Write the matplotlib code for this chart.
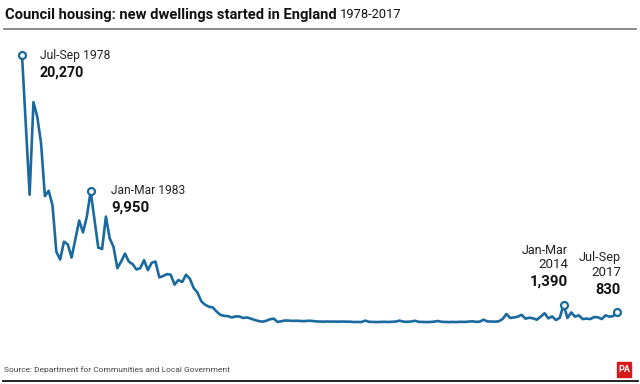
import pandas as pd
import matplotlib
matplotlib.use("Agg")
import matplotlib.pyplot as plt
from matplotlib.patches import Rectangle

# Quarterly council housing starts, England, Jul-Sep 1978 to Jul-Sep 2017
quarters = pd.period_range("1978Q3", "2017Q3", freq="Q")
starts = [
    20270, 15000, 9700, 16700, 15600, 13600, 9600, 10000, 8900, 5400,
    4800, 6150, 5950, 4950, 6350, 7750, 6850, 8050, 9950, 7800,
    5700, 5600, 8050, 6400, 5750, 4150, 4650, 5250, 4650, 4450,
    4050, 4150, 4750, 4000, 4550, 4650, 3450, 3550, 3700, 3650,
    2900, 3250, 3100, 3650, 3350, 2650, 2300, 1650, 1380, 1230,
    1180, 870, 620, 540, 520, 420, 500, 490, 380, 420,
    330, 230, 150, 100, 160, 280, 330, 80, 130, 190,
    180, 160, 170, 150, 140, 170, 160, 120, 110, 100,
    110, 100, 110, 100, 110, 100, 100, 70, 80, 70,
    180, 90, 80, 70, 80, 90, 80, 90, 110, 180,
    100, 90, 110, 170, 90, 80, 70, 80, 100, 150,
    90, 80, 70, 80, 70, 90, 80, 100, 130, 90,
    100, 250, 120, 110, 100, 130, 300, 680, 380, 420,
    480, 620, 330, 400, 350, 250, 480, 740, 350, 500,
    220, 400, 1390, 380, 800, 480, 580, 300, 330, 300,
    450, 430, 300, 580, 480, 520, 830,
]

# labelled points
highlight_q = ["1978Q3", "1983Q1", "2014Q1", "2017Q3"]

blue = "#1a6aa0"
font = ["Roboto", "DejaVu Sans"]

W, H = 640, 384
fig = plt.figure(figsize=(6.4, 3.84), dpi=100)
renderer = fig.canvas.get_renderer()


def fx(px):
    return px / W


def fy(py):
    return 1 - py / H


def put(px, py, s, width, size, bold=False, ha="left", color="#222222"):
    # place text and shrink it so it is no wider than in the original
    t = fig.text(fx(px), fy(py), s, fontsize=size, family=font, ha=ha,
                 va="center", color=color, weight="bold" if bold else "normal")
    w = t.get_window_extent(renderer).width
    if w > width:
        t.set_fontsize(size * width / w)
    return t


# axes placed so the data sits where it does in the original
ax = fig.add_axes([fx(22), fy(323), fx(617 - 22), fy(55) - fy(323)])
x = list(range(len(quarters)))
ax.plot(x, starts, color=blue, lw=1.9, solid_joinstyle="round", clip_on=False)
ax.set_xlim(0, len(quarters) - 1)
ax.set_ylim(0, 20270)
ax.axis("off")

qlist = [str(q) for q in quarters]
for q in highlight_q:
    i = qlist.index(q)
    ax.plot(i, starts[i], "o", ms=5, mfc="white", mec=blue, mew=1.6,
            clip_on=False, zorder=5)

# annotation text
put(40, 55, "Jul-Sep 1978", 70, 10)
put(40, 73, "20,270", 44, 11.5, bold=True, color="#111111")
put(111, 190, "Jan-Mar 1983", 74, 10)
put(111, 208, "9,950", 38, 11.5, bold=True, color="#111111")
put(568, 251, "Jan-Mar", 46, 10, ha="right")
put(568, 265, "2014", 30, 10, ha="right")
put(568, 282, "1,390", 38, 11.5, bold=True, ha="right", color="#111111")
put(621, 258, "Jul-Sep", 42, 10, ha="right")
put(621, 273, "2017", 30, 10, ha="right")
put(621, 290, "830", 25, 11.5, bold=True, ha="right", color="#111111")

# title and rule
put(5, 15, "Council housing: new dwellings started in England", 332, 13,
    bold=True, color="#111111")
put(340, 15, "1978-2017", 61, 13, color="#111111")
fig.add_artist(plt.Line2D([fx(4), fx(636)], [fy(29), fy(29)],
                          color="#777777", lw=1.2))

# footer
put(4, 370, "Source: Department for Communities and Local Government", 226, 8,
    color="#444444")
fig.add_artist(plt.Line2D([fx(3), fx(638)], [fy(381), fy(381)],
                          color="#111111", lw=1.3))
fig.add_artist(Rectangle((fx(617), fy(377)), fx(14), fy(362) - fy(377),
                         color="#d7191c", transform=fig.transFigure))
fig.text(fx(624), fy(369.5), "PA", fontsize=6.5, family=font, weight="bold",
         color="white", ha="center", va="center")

fig.savefig("out.png", dpi=100)
